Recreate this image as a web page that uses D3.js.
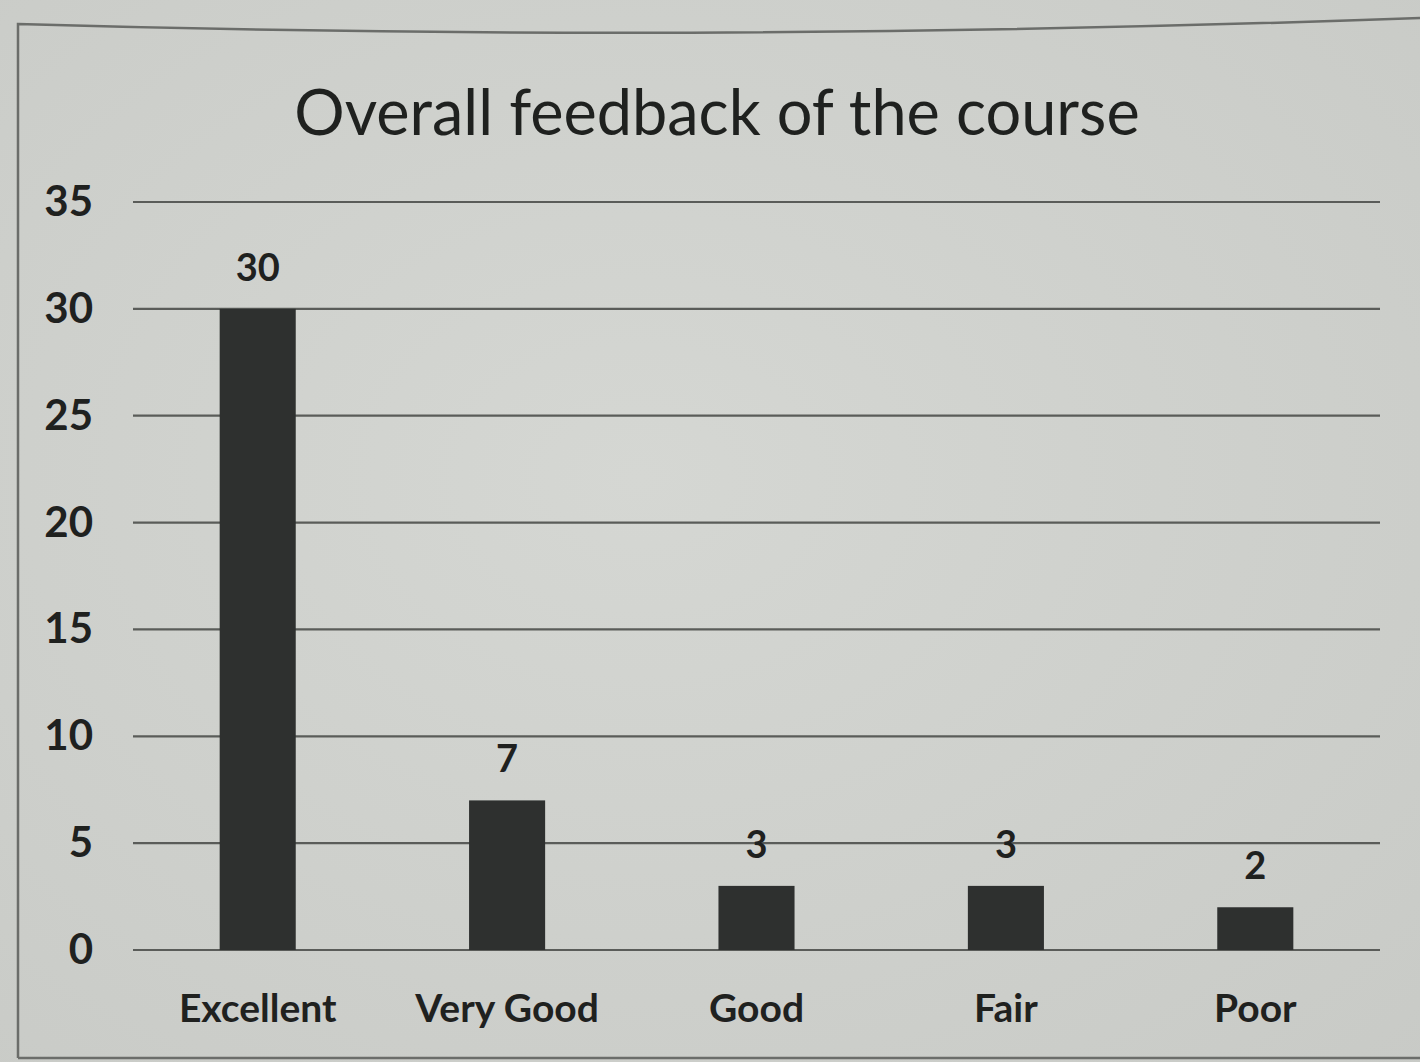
<!DOCTYPE html>
<html>
<head>
<meta charset="utf-8">
<script src="https://cdn.jsdelivr.net/npm/d3@7/dist/d3.min.js"></script>
<style>
  html, body { margin: 0; padding: 0; background: #cfd1cd; }
  svg { display: block; }
  text { font-family: Lato, "Open Sans", sans-serif; fill: #1f211f; }
</style>
</head>
<body>
<svg id="chart" width="1420" height="1062"></svg>
<script>
// Course feedback counts
const categories = ["Excellent", "Very Good", "Good", "Fair", "Poor"];
const counts = [30, 7, 3, 3, 2];
const yTicks = [0, 5, 10, 15, 20, 25, 30, 35];
const chartTitle = "Overall feedback of the course";

const W = 1420, H = 1062;
const margin = { left: 133, right: 40, top: 202, bottom: 112 };

const svg = d3.select("#chart");

// paper background with a soft light falloff
const defs = svg.append("defs");
const grad = defs.append("radialGradient").attr("id", "paper")
  .attr("cx", "45%").attr("cy", "45%").attr("r", "80%");
grad.append("stop").attr("offset", "0%").attr("stop-color", "#d5d7d3");
grad.append("stop").attr("offset", "100%").attr("stop-color", "#c8cac6");
svg.append("rect").attr("width", W).attr("height", H).attr("fill", "url(#paper)");

// chart frame
svg.append("path")
  .attr("d", "M18,1058 L18,24 Q700,44 1420,18")
  .attr("fill", "none").attr("stroke", "#6b6d6a").attr("stroke-width", 2.5);
svg.append("line")
  .attr("x1", 18).attr("x2", W).attr("y1", 1058).attr("y2", 1058)
  .attr("stroke", "#6b6d6a").attr("stroke-width", 2.5);

const x = d3.scaleBand()
  .domain(categories)
  .range([margin.left, W - margin.right])
  .paddingInner(0.695)
  .paddingOuter(0.3475);

const y = d3.scaleLinear()
  .domain([0, 35])
  .range([H - margin.bottom, margin.top]);

// gridlines
svg.append("g")
  .selectAll("line")
  .data(yTicks)
  .join("line")
  .attr("x1", margin.left).attr("x2", W - margin.right)
  .attr("y1", d => y(d)).attr("y2", d => y(d))
  .attr("stroke", "#5a5c59").attr("stroke-width", 2.2);

// y axis labels
const yAxis = d3.axisLeft(y).tickValues(yTicks).tickSize(0).tickPadding(0);
const gy = svg.append("g")
  .attr("transform", `translate(93,0)`)
  .call(yAxis);
gy.select(".domain").remove();
gy.selectAll("text")
  .attr("font-size", 42).attr("font-weight", "bold")
  .attr("font-family", "Lato, sans-serif")
  .attr("fill", "#252725");

// bars
svg.append("g")
  .selectAll("rect")
  .data(counts)
  .join("rect")
  .attr("x", (d, i) => x(categories[i]))
  .attr("width", x.bandwidth())
  .attr("y", d => y(d))
  .attr("height", d => y(0) - y(d))
  .attr("fill", "#2e302f");

// value labels
svg.append("g")
  .selectAll("text")
  .data(counts)
  .join("text")
  .attr("x", (d, i) => x(categories[i]) + x.bandwidth() / 2)
  .attr("y", d => y(d) - 28)
  .attr("text-anchor", "middle")
  .attr("font-size", 38).attr("font-weight", "bold")
  .attr("fill", "#252725")
  .text(d => d);

// category axis
const xAxis = d3.axisBottom(x).tickSize(0).tickPadding(0);
const gx = svg.append("g")
  .attr("transform", `translate(0,${y(0) + 44})`)
  .call(xAxis);
gx.select(".domain").remove();
gx.selectAll("text")
  .attr("font-size", 39).attr("font-weight", "bold")
  .attr("font-family", "Lato, sans-serif")
  .attr("fill", "#252725");

// title
svg.append("text")
  .attr("x", 717).attr("y", 135)
  .attr("text-anchor", "middle")
  .attr("font-size", 63)
  .text(chartTitle);
</script>
</body>
</html>
